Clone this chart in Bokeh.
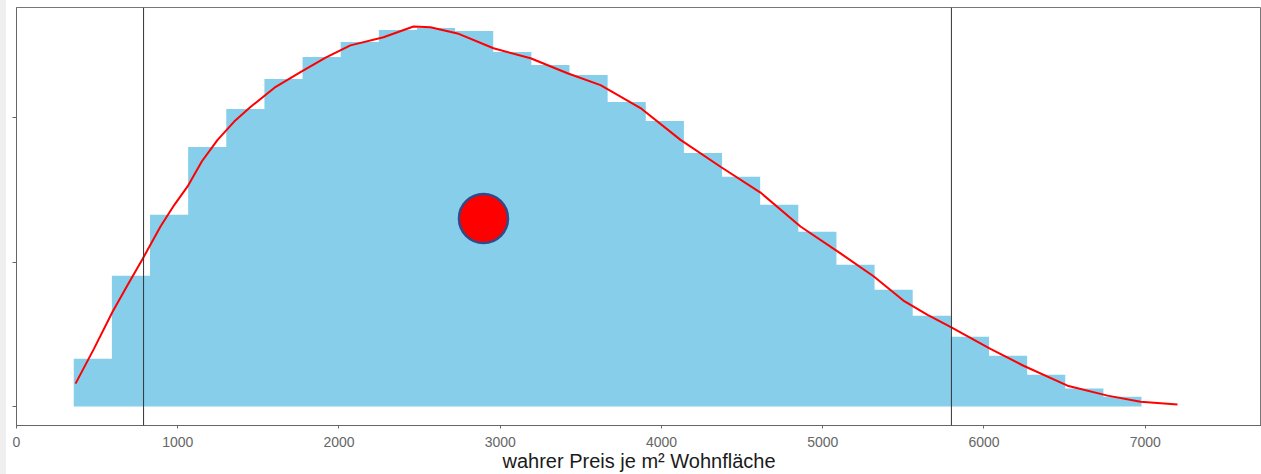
from bokeh.plotting import figure
from bokeh.models import Range1d, FixedTicker, Span, Spacer
from bokeh.layouts import row
from bokeh.embed import file_html
from bokeh.resources import INLINE

# Histogram bins (price per m²) and density heights
bin_edges = [355, 591.5, 828, 1064.5, 1301, 1537.5, 1774, 2010.5, 2247, 2483.5,
             2720, 2956.5, 3193, 3429.5, 3666, 3902.5, 4139, 4375.5, 4612, 4848.5,
             5085, 5321.5, 5558, 5794.5, 6031, 6267.5, 6504, 6740.5, 6977]
densities = [3.32e-5, 9.07e-5, 1.329e-4, 1.799e-4, 2.062e-4, 2.270e-4, 2.422e-4,
             2.526e-4, 2.609e-4, 2.623e-4, 2.602e-4, 2.457e-4, 2.367e-4, 2.298e-4,
             2.111e-4, 1.979e-4, 1.758e-4, 1.592e-4, 1.398e-4, 1.211e-4, 9.83e-5,
             8.10e-5, 6.30e-5, 4.84e-5, 3.53e-5, 2.21e-5, 1.25e-5, 6.9e-6]

# Kernel density estimate curve
kde_x = [366, 480, 595, 690, 781, 893, 980, 1060, 1150, 1247, 1350, 1451, 1600,
         1761, 1920, 2071, 2276, 2462, 2567, 2735, 2958, 3188, 3417, 3622, 3870,
         4118, 4366, 4614, 4862, 5110, 5315, 5500, 5650, 5792, 6040, 6245, 6518,
         6766, 6971, 7200]
kde_y = [1.59e-5, 4.0e-5, 6.55e-5, 8.45e-5, 1.021e-4, 1.248e-4, 1.40e-4, 1.524e-4,
         1.70e-4, 1.848e-4, 1.975e-4, 2.076e-4, 2.21e-4, 2.317e-4, 2.42e-4,
         2.503e-4, 2.559e-4, 2.634e-4, 2.628e-4, 2.586e-4, 2.483e-4, 2.414e-4,
         2.310e-4, 2.228e-4, 2.069e-4, 1.848e-4, 1.662e-4, 1.483e-4, 1.248e-4,
         1.062e-4, 9.03e-5, 7.35e-5, 6.35e-5, 5.52e-5, 4.00e-5, 2.83e-5, 1.45e-5,
         7.6e-6, 3.4e-6, 1.4e-6]

# Interval bounds (vertical lines) and the true price marker
bounds = [788, 5798]
marker_x = [2896]
marker_y = [1.303e-4]

x_ticks = [0, 1000, 2000, 3000, 4000, 5000, 6000, 7000]
x_tick_labels = ["0", "1000", "2000", "3000", "4000", "5000", "6000", "7000"]
y_ticks = [0, 1e-4, 2e-4]
x_label = "wahrer Preis je m² Wohnfläche"

p = figure(width=1255, height=474,
           x_range=Range1d(0, 7721), y_range=Range1d(-1.31e-5, 2.7655e-4),
           output_backend="svg", toolbar_location=None,
           min_border_left=10, min_border_right=0, min_border_top=7,
           min_border_bottom=47)
p.xgrid.visible = False
p.ygrid.visible = False
p.background_fill_color = "white"
p.border_fill_color = "white"
p.outline_line_color = "#777777"
p.outline_line_width = 1

# histogram drawn as one stepped area (no seams between bars)
p.varea_step(x=bin_edges, y1=[0] * len(bin_edges), y2=densities + densities[-1:],
             step_mode="after", fill_color="#87CEEB")

for b in bounds:
    p.add_layout(Span(location=b, dimension="height", line_color="#333333",
                      line_width=1))

p.line(kde_x, kde_y, line_color="#ff0000", line_width=2)

p.scatter(marker_x, marker_y, marker="circle", size=49, fill_color="#ff0000",
          line_color="#2F4B8A", line_width=2.5)

xa = p.xaxis[0]
xa.ticker = FixedTicker(ticks=x_ticks)
xa.major_label_overrides = {t: l for t, l in zip(x_ticks, x_tick_labels)}
xa.minor_tick_line_color = None
xa.major_tick_in = 0
xa.major_tick_out = 3
xa.axis_line_color = "#666666"
xa.major_tick_line_color = "#666666"
xa.major_label_text_color = "#666666"
xa.major_label_text_font = "Liberation Sans"
xa.major_label_text_font_size = "14px"
xa.major_label_standoff = 8
xa.axis_label = x_label
xa.axis_label_text_font = "Liberation Sans"
xa.axis_label_text_font_style = "normal"
xa.axis_label_text_font_size = "20px"
xa.axis_label_text_color = "#1a1a1a"
xa.axis_label_standoff = 0

ya = p.yaxis[0]
ya.ticker = FixedTicker(ticks=y_ticks)
ya.major_label_overrides = {t: "" for t in y_ticks}
ya.major_label_standoff = 0
ya.minor_tick_line_color = None
ya.major_tick_in = 0
ya.major_tick_out = 4
ya.axis_line_color = "#666666"
ya.major_tick_line_color = "#666666"

strip = Spacer(width=6, height=474, styles={"background-color": "#efefef"})
layout = row(strip, p)

open("out.html", "w").write(file_html(layout, INLINE))
